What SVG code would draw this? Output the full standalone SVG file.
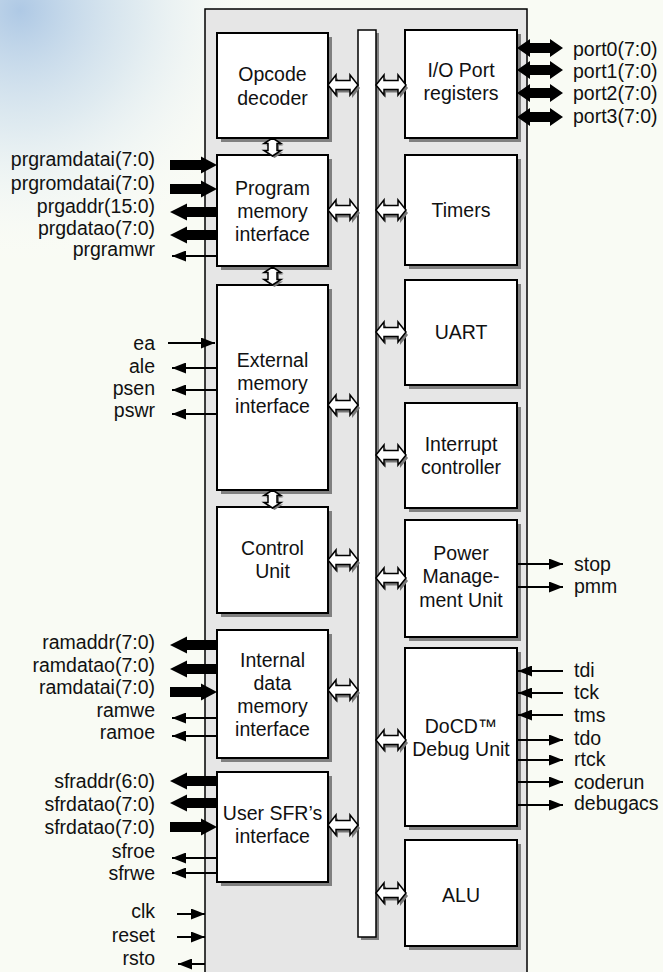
<svg xmlns="http://www.w3.org/2000/svg" xmlns:xlink="http://www.w3.org/1999/xlink" width="663" height="972" viewBox="0 0 663 972">
<style>
text{font-family:"Liberation Sans",Arial,sans-serif;font-size:19.5px;fill:#111}
.c{text-anchor:middle}
.e{text-anchor:end}
.blk{fill:#fff;stroke:#000;stroke-width:2}
.sh{fill:#808080}
.thin{stroke:#000;stroke-width:2;fill:none;marker-end:url(#ah)}
.thick{fill:#000}
</style>
<defs>
<radialGradient id="bg" cx="20" cy="10" r="260" gradientUnits="userSpaceOnUse">
<stop offset="0" stop-color="#a6c3e3" stop-opacity="0.9"/>
<stop offset="0.45" stop-color="#cadded" stop-opacity="0.55"/>
<stop offset="1" stop-color="#ffffff" stop-opacity="0"/>
</radialGradient>
<marker id="ah" viewBox="0 0 14 11" refX="14" refY="5.5" markerWidth="14" markerHeight="11" markerUnits="userSpaceOnUse" orient="auto">
<path d="M0,0 L14,5.5 L0,11 Z" fill="#000"/>
</marker>
<path id="hd" d="M0,0 L8,-10 L8,-4.5 L22,-4.5 L22,-10 L30,0 L22,10 L22,4.5 L8,4.5 L8,10 Z"/>
<g id="hdbl">
<use href="#hd" x="2" y="3" fill="#777"/>
<use href="#hd" fill="#fff" stroke="#000" stroke-width="1.5"/>
</g>
<path id="vd" d="M0,0 L8.5,5.5 L4.5,5.5 L4.5,12.5 L8.5,12.5 L0,18 L-8.5,12.5 L-4.5,12.5 L-4.5,5.5 L-8.5,5.5 Z"/>
<g id="vdbl">
<use href="#vd" x="2" y="2" fill="#777"/>
<use href="#vd" fill="#fff" stroke="#000" stroke-width="1.5"/>
</g>
<path id="tin" d="M-47,-5 L-16,-5 L-16,-8.5 L0,0 L-16,8.5 L-16,5 L-47,5 Z"/>
<path id="tout" d="M0,0 L17,-8.5 L17,-5 L47,-5 L47,5 L17,5 L17,8.5 Z"/>
<path id="tport" d="M517,0 L530,-9 L530,-5 L550,-5 L550,-9 L563,0 L550,9 L550,5 L530,5 L530,9 Z"/>
</defs>

<rect width="663" height="972" fill="#f9fbf4"/>
<rect width="663" height="972" fill="url(#bg)"/>

<g id="container">
<rect x="205" y="9" width="322" height="990" fill="#e6e6e6" stroke="#000" stroke-width="1.5"/>
</g>

<g id="bus">
<rect x="361" y="33" width="18" height="907" class="sh"/>
<rect x="358" y="30" width="18" height="907" fill="#fff" stroke="#000" stroke-width="1.5"/>
</g>

<g id="opcode">
<rect x="221" y="37" width="111" height="105" class="sh"/>
<rect x="217" y="33" width="111" height="105" class="blk"/>
<text x="272.5" y="81" class="c">Opcode</text>
<text x="272.5" y="105" class="c">decoder</text>
</g>
<g id="progmem">
<rect x="221" y="159" width="111" height="111" class="sh"/>
<rect x="217" y="155" width="111" height="111" class="blk"/>
<text x="272.5" y="195" class="c">Program</text>
<text x="272.5" y="218" class="c">memory</text>
<text x="272.5" y="241" class="c">interface</text>
</g>
<g id="extmem">
<rect x="221" y="289" width="111" height="205" class="sh"/>
<rect x="217" y="285" width="111" height="205" class="blk"/>
<text x="272.5" y="367" class="c">External</text>
<text x="272.5" y="390" class="c">memory</text>
<text x="272.5" y="413" class="c">interface</text>
</g>
<g id="control">
<rect x="221" y="511" width="111" height="106" class="sh"/>
<rect x="217" y="507" width="111" height="106" class="blk"/>
<text x="272.5" y="555" class="c">Control</text>
<text x="272.5" y="578" class="c">Unit</text>
</g>
<g id="intmem">
<rect x="221" y="634" width="111" height="128" class="sh"/>
<rect x="217" y="630" width="111" height="128" class="blk"/>
<text x="272.5" y="667" class="c">Internal</text>
<text x="272.5" y="690" class="c">data</text>
<text x="272.5" y="713" class="c">memory</text>
<text x="272.5" y="736" class="c">interface</text>
</g>
<g id="usersfr">
<rect x="221" y="776" width="111" height="110" class="sh"/>
<rect x="217" y="772" width="111" height="110" class="blk"/>
<text x="272.5" y="820" class="c">User SFR’s</text>
<text x="272.5" y="843" class="c">interface</text>
</g>

<g id="ioport">
<rect x="409" y="34" width="112" height="108" class="sh"/>
<rect x="405" y="30" width="112" height="108" class="blk"/>
<text x="461" y="77" class="c">I/O Port</text>
<text x="461" y="100" class="c">registers</text>
</g>
<g id="timers">
<rect x="409" y="159" width="112" height="110" class="sh"/>
<rect x="405" y="155" width="112" height="110" class="blk"/>
<text x="461" y="217" class="c">Timers</text>
</g>
<g id="uart">
<rect x="409" y="284" width="112" height="105" class="sh"/>
<rect x="405" y="280" width="112" height="105" class="blk"/>
<text x="461" y="339" class="c">UART</text>
</g>
<g id="interrupt">
<rect x="409" y="407" width="112" height="105" class="sh"/>
<rect x="405" y="403" width="112" height="105" class="blk"/>
<text x="461" y="451" class="c">Interrupt</text>
<text x="461" y="474" class="c">controller</text>
</g>
<g id="power">
<rect x="409" y="524" width="112" height="117" class="sh"/>
<rect x="405" y="520" width="112" height="117" class="blk"/>
<text x="461" y="560" class="c">Power</text>
<text x="461" y="583" class="c">Manage-</text>
<text x="461" y="607" class="c">ment Unit</text>
</g>
<g id="docd">
<rect x="409" y="652" width="112" height="178" class="sh"/>
<rect x="405" y="648" width="112" height="178" class="blk"/>
<text x="461" y="733" class="c">DoCD™</text>
<text x="461" y="756" class="c">Debug Unit</text>
</g>
<g id="alu">
<rect x="409" y="844" width="112" height="106" class="sh"/>
<rect x="405" y="840" width="112" height="106" class="blk"/>
<text x="461" y="902" class="c">ALU</text>
</g>

<g id="connectors">
<use href="#hdbl" x="328" y="85"/>
<use href="#hdbl" x="328" y="210"/>
<use href="#hdbl" x="328" y="405"/>
<use href="#hdbl" x="328" y="560"/>
<use href="#hdbl" x="328" y="690"/>
<use href="#hdbl" x="328" y="825"/>
<use href="#hdbl" x="376" y="85"/>
<use href="#hdbl" x="376" y="210"/>
<use href="#hdbl" x="376" y="332"/>
<use href="#hdbl" x="376" y="455"/>
<use href="#hdbl" x="376" y="578"/>
<use href="#hdbl" x="376" y="740"/>
<use href="#hdbl" x="376" y="893"/>
<use href="#vdbl" x="272.5" y="138"/>
<use href="#vdbl" x="272.5" y="267"/>
<use href="#vdbl" x="272.5" y="490"/>

<use href="#tin" x="217" y="165" class="thick"/>
<use href="#tin" x="217" y="189" class="thick"/>
<use href="#tout" x="170" y="212" class="thick"/>
<use href="#tout" x="170" y="235" class="thick"/>
<line x1="217" y1="256" x2="172" y2="256" class="thin"/>
<line x1="168" y1="343" x2="215" y2="343" class="thin"/>
<line x1="217" y1="368" x2="172" y2="368" class="thin"/>
<line x1="217" y1="390" x2="172" y2="390" class="thin"/>
<line x1="217" y1="414" x2="172" y2="414" class="thin"/>
<use href="#tout" x="170" y="645" class="thick"/>
<use href="#tout" x="170" y="669" class="thick"/>
<use href="#tin" x="217" y="692" class="thick"/>
<line x1="217" y1="718" x2="172" y2="718" class="thin"/>
<line x1="217" y1="736" x2="172" y2="736" class="thin"/>
<use href="#tout" x="170" y="781" class="thick"/>
<use href="#tout" x="170" y="803" class="thick"/>
<use href="#tin" x="217" y="827" class="thick"/>
<line x1="217" y1="858" x2="172" y2="858" class="thin"/>
<line x1="217" y1="873" x2="172" y2="873" class="thin"/>
<line x1="177" y1="914" x2="205" y2="914" class="thin"/>
<line x1="177" y1="937" x2="205" y2="937" class="thin"/>
<line x1="205" y1="964" x2="178" y2="964" class="thin"/>
<use href="#tport" y="48" class="thick"/>
<use href="#tport" y="70" class="thick"/>
<use href="#tport" y="93" class="thick"/>
<use href="#tport" y="117" class="thick"/>
<line x1="517" y1="564" x2="563" y2="564" class="thin"/>
<line x1="517" y1="587" x2="563" y2="587" class="thin"/>
<line x1="563" y1="671" x2="518" y2="671" class="thin"/>
<line x1="563" y1="693" x2="518" y2="693" class="thin"/>
<line x1="563" y1="715" x2="518" y2="715" class="thin"/>
<line x1="517" y1="740" x2="563" y2="740" class="thin"/>
<line x1="517" y1="760" x2="563" y2="760" class="thin"/>
<line x1="517" y1="782" x2="563" y2="782" class="thin"/>
<line x1="517" y1="805" x2="563" y2="805" class="thin"/>
</g>

<g id="labels-left">
<text x="155" y="166" class="e">prgramdatai(7:0)</text>
<text x="155" y="190" class="e">prgromdatai(7:0)</text>
<text x="155" y="213" class="e">prgaddr(15:0)</text>
<text x="155" y="235" class="e">prgdatao(7:0)</text>
<text x="155" y="256" class="e">prgramwr</text>
<text x="155" y="350" class="e">ea</text>
<text x="155" y="373" class="e">ale</text>
<text x="155" y="395" class="e">psen</text>
<text x="155" y="417" class="e">pswr</text>
<text x="155" y="649" class="e">ramaddr(7:0)</text>
<text x="155" y="672" class="e">ramdatao(7:0)</text>
<text x="155" y="694" class="e">ramdatai(7:0)</text>
<text x="155" y="717" class="e">ramwe</text>
<text x="155" y="739" class="e">ramoe</text>
<text x="155" y="788" class="e">sfraddr(6:0)</text>
<text x="155" y="811" class="e">sfrdatao(7:0)</text>
<text x="155" y="834" class="e">sfrdatao(7:0)</text>
<text x="155" y="858" class="e">sfroe</text>
<text x="155" y="880" class="e">sfrwe</text>
<text x="155" y="918" class="e">clk</text>
<text x="155" y="942" class="e">reset</text>
<text x="155" y="965" class="e">rsto</text>
</g>
<g id="labels-right">
<text x="573" y="56">port0(7:0)</text>
<text x="573" y="78">port1(7:0)</text>
<text x="573" y="100">port2(7:0)</text>
<text x="573" y="123">port3(7:0)</text>
<text x="574" y="571">stop</text>
<text x="574" y="593">pmm</text>
<text x="574" y="677">tdi</text>
<text x="574" y="699">tck</text>
<text x="574" y="722">tms</text>
<text x="574" y="745">tdo</text>
<text x="574" y="766">rtck</text>
<text x="574" y="789">coderun</text>
<text x="574" y="810">debugacs</text>
</g>
</svg>
